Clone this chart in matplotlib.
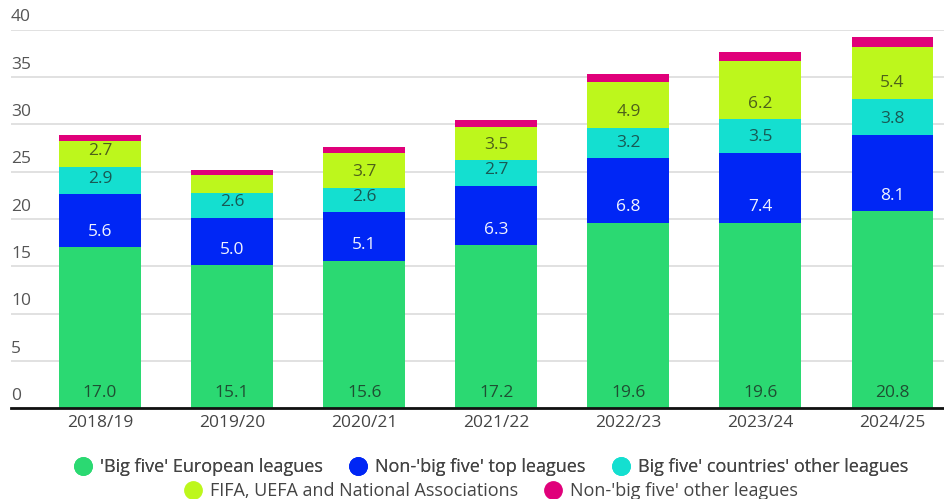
import matplotlib
matplotlib.use("Agg")
import matplotlib.pyplot as plt
from matplotlib.lines import Line2D
import matplotlib.transforms as mtransforms

plt.rcParams['font.family'] = ['Open Sans', 'DejaVu Sans']

seasons = ["2018/19", "2019/20", "2020/21", "2021/22", "2022/23", "2023/24", "2024/25"]
big_five = [17.0, 15.1, 15.6, 17.2, 19.6, 19.6, 20.8]
non_big_five_top = [5.6, 5.0, 5.1, 6.3, 6.8, 7.4, 8.1]
big_five_other = [2.9, 2.6, 2.6, 2.7, 3.2, 3.5, 3.8]
fifa_uefa = [2.7, 1.9, 3.7, 3.5, 4.9, 6.2, 5.4]
non_big_five_other = [0.7, 0.6, 0.6, 0.7, 0.8, 0.9, 1.1]

series_names = ["'Big five' European leagues", "Non-'big five' top leagues",
                "Big five' countries' other leagues",
                "FIFA, UEFA and National Associations", "Non-'big five' other leagues"]
series_values = [big_five, non_big_five_top, big_five_other, fifa_uefa, non_big_five_other]
colors = ["#2bd972", "#0026f5", "#14dfd0", "#bdf71c", "#e0007a"]
label_colors = ["#1a1a1a", "white", "#1a1a1a", "#1a1a1a", "#1a1a1a"]
label_alpha = [0.72, 0.95, 0.68, 0.68, 0.68]
y_ticks = [0, 5, 10, 15, 20, 25, 30, 35, 40]

FS = 12.5
LFS = 13

fig = plt.figure(figsize=(9.44, 4.99), dpi=100)
ax = fig.add_axes([11 / 944, 1 - 408.3 / 499, 1 - 11 / 944, (408.3 - 29.5) / 499])

x = list(range(len(seasons)))
bottoms = [0.0] * len(seasons)
for vals, col, lc, la in zip(series_values, colors, label_colors, label_alpha):
    ax.bar(x, vals, bottom=bottoms, width=0.62, color=col, edgecolor='none', zorder=3)
    for xi, v, b in zip(x, vals, bottoms):
        if v >= 2.0:
            ax.annotate(f"{v:.1f}", (xi, b), xytext=(0, 11.2), textcoords='offset points',
                        ha='center', va='center', fontsize=FS, color=lc, alpha=la,
                        fontweight='medium', zorder=4)
    bottoms = [b + v for b, v in zip(bottoms, vals)]

ax.set_xlim(-0.674, 6.39)
ax.set_ylim(0, 40)
ax.set_yticks(y_ticks)
ax.set_yticklabels([])
ax.tick_params(axis='y', length=0)
ax.grid(axis='y', color='#dcdcdc', linewidth=1.2, zorder=0)
ax.set_xticks(x)
ax.set_xticklabels(seasons, fontsize=FS, color='#444444')
ax.tick_params(axis='x', length=0, pad=5)
for s in ['top', 'right', 'left']:
    ax.spines[s].set_visible(False)
ax.spines['bottom'].set_color('#111111')
ax.spines['bottom'].set_linewidth(2)
ax.spines['bottom'].set_zorder(5)

trans = mtransforms.blended_transform_factory(ax.transAxes, ax.transData)
for t in y_ticks:
    ax.annotate(str(t), (0, t), xycoords=trans, xytext=(0, 3), textcoords='offset points',
                ha='left', va='bottom', fontsize=FS, color='#555555', annotation_clip=False)

handles = [Line2D([], [], marker='o', linestyle='none', markersize=12.5,
                  markerfacecolor=c, markeredgecolor=c) for c in colors]
leg1 = fig.legend(handles[:3], series_names[:3], loc='center', bbox_to_anchor=(0.519, 1 - 467.5 / 499),
                  ncol=3, frameon=False, fontsize=LFS, handletextpad=0.35, columnspacing=1.35,
                  labelcolor='#444444', handlelength=1.2)
leg2 = fig.legend(handles[3:], series_names[3:], loc='center', bbox_to_anchor=(0.519, 1 - 491.5 / 499),
                  ncol=2, frameon=False, fontsize=LFS, handletextpad=0.35, columnspacing=1.35,
                  labelcolor='#444444', handlelength=1.2)
fig.add_artist(leg1)

fig.savefig("out.png", dpi=100)
